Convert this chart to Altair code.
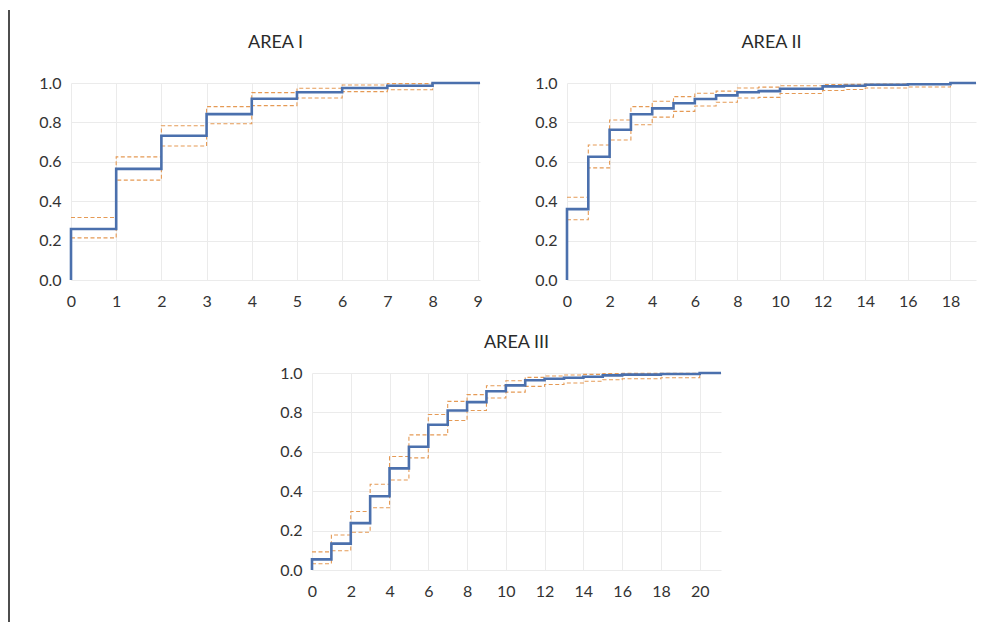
import altair as alt
import pandas as pd

# ---------------- data ----------------
# AREA I
a1_steps = [0, 1, 2, 3, 4, 5, 6, 7, 8]
a1_est = [0.259, 0.564, 0.732, 0.842, 0.920, 0.953, 0.975, 0.986, 1.0]
a1_up = [0.317, 0.625, 0.783, 0.880, 0.951, 0.973, 0.990, 0.997]
a1_lo = [0.214, 0.507, 0.680, 0.793, 0.885, 0.924, 0.956, 0.966]
a1_ticks = [0, 1, 2, 3, 4, 5, 6, 7, 8, 9]
a1_xmax = 9.05

# AREA II
a2_steps = [0, 1, 2, 3, 4, 5, 6, 7, 8, 9, 10, 12, 13, 14, 16, 18]
a2_est = [0.360, 0.626, 0.763, 0.841, 0.871, 0.897, 0.919, 0.937, 0.953, 0.959,
          0.971, 0.983, 0.986, 0.991, 0.994, 1.0]
a2_up = [0.420, 0.685, 0.812, 0.880, 0.907, 0.931, 0.948, 0.959, 0.975, 0.979,
         0.986, 0.992, 0.993, 0.995, 0.997]
a2_lo = [0.306, 0.569, 0.711, 0.788, 0.827, 0.856, 0.883, 0.902, 0.924, 0.927,
         0.947, 0.962, 0.967, 0.975, 0.980]
a2_ticks = [0, 2, 4, 6, 8, 10, 12, 14, 16, 18]
a2_xmax = 19.2

# AREA III
a3_steps = [0, 1, 2, 3, 4, 5, 6, 7, 8, 9, 10, 11, 12, 13, 14, 15, 16, 18, 20]
a3_est = [0.054, 0.134, 0.238, 0.374, 0.516, 0.626, 0.737, 0.810, 0.852, 0.907,
          0.937, 0.963, 0.971, 0.976, 0.981, 0.988, 0.992, 0.995, 1.0]
a3_up = [0.092, 0.178, 0.297, 0.435, 0.576, 0.686, 0.789, 0.856, 0.890, 0.935,
         0.961, 0.978, 0.985, 0.990, 0.993, 0.997, 0.998, 0.999]
a3_lo = [0.032, 0.098, 0.192, 0.316, 0.457, 0.569, 0.686, 0.759, 0.810, 0.873,
         0.903, 0.932, 0.942, 0.949, 0.958, 0.966, 0.971, 0.976]
a3_ticks = [0, 2, 4, 6, 8, 10, 12, 14, 16, 18, 20]
a3_xmax = 21.1

y_ticks = [0.0, 0.2, 0.4, 0.6, 0.8, 1.0]

# ---------------- styling ----------------
FONT = "Lato"
BLUE = "#4b70ad"
ORANGE = "#e59a55"
GRID = "#ebebeb"
TXT = "#333333"
PW, PH = 409, 197


def panel(title, steps, est, up, lo, ticks, xmax, title_offset):
    est_rows = [{"x": 0, "y": 0.0}] + [{"x": s, "y": v} for s, v in zip(steps, est)]
    est_rows.append({"x": xmax, "y": 1.0})
    est_df = pd.DataFrame(est_rows)
    band_rows = []
    end = steps[len(up)]
    for name, vals in (("upper", up), ("lower", lo)):
        for s, v in zip(steps, vals):
            band_rows.append({"x": s, "y": v, "s": name})
        band_rows.append({"x": end, "y": 1.0, "s": name})
    band_df = pd.DataFrame(band_rows)

    xscale = alt.Scale(domain=[0, xmax], nice=False, zero=False)
    yscale = alt.Scale(domain=[0, 1], nice=False)
    xaxis = alt.Axis(values=ticks, format="d", grid=True, ticks=False, domain=False,
                     labelPadding=13, gridColor=GRID, labelFlush=False)
    yaxis = alt.Axis(values=y_ticks, format=".1f", grid=True, ticks=False, domain=False,
                     labelPadding=10, gridColor=GRID)

    band = alt.Chart(band_df).mark_line(
        interpolate="step-after", color=ORANGE, strokeWidth=1.1, strokeDash=[4, 2.5]
    ).encode(
        x=alt.X("x:Q", scale=xscale, axis=xaxis, title=None),
        y=alt.Y("y:Q", scale=yscale, axis=yaxis, title=None),
        detail="s:N",
    )
    line = alt.Chart(est_df).mark_line(
        interpolate="step-after", color=BLUE, strokeWidth=2.6
    ).encode(
        x=alt.X("x:Q", scale=xscale, axis=xaxis, title=None),
        y=alt.Y("y:Q", scale=yscale, axis=yaxis, title=None),
    )
    return alt.layer(band, line).properties(
        width=PW, height=PH,
        title=alt.TitleParams(title, fontSize=18, font=FONT, fontWeight="normal",
                              color="#2a2a2a", anchor="middle", offset=title_offset),
    )


p1 = panel("AREA I", a1_steps, a1_est, a1_up, a1_lo, a1_ticks, a1_xmax, 23)
p2 = panel("AREA II", a2_steps, a2_est, a2_up, a2_lo, a2_ticks, a2_xmax, 23)
p3 = panel("AREA III", a3_steps, a3_est, a3_up, a3_lo, a3_ticks, a3_xmax, 13)

one = pd.DataFrame({"k": [0]})


def spacer(w, h):
    return alt.Chart(one).mark_rule(opacity=0).encode(
        x=alt.value(0), y=alt.value(0), y2=alt.value(1)
    ).properties(width=w, height=h)


border = alt.Chart(one).mark_rule(color="#4d4d4d", strokeWidth=2).encode(
    x=alt.value(1), y=alt.value(2), y2=alt.value(614)
).properties(width=2, height=614)

row1 = alt.hconcat(p1, p2, spacing=48)
row3 = alt.hconcat(spacer(1, 10), p3, spacing=207)
body = alt.vconcat(spacer(1, 1), row1, row3, spacing=25)

chart = alt.hconcat(border, body, spacing=28).properties(
    padding={"left": 0, "top": 0, "right": 0, "bottom": 0}
).configure_view(stroke=None).configure_axis(
    labelFont=FONT, labelFontSize=16, labelColor=TXT
).configure_concat(spacing=0)

chart.save("out.html", embed_options={"renderer": "svg", "actions": False})
